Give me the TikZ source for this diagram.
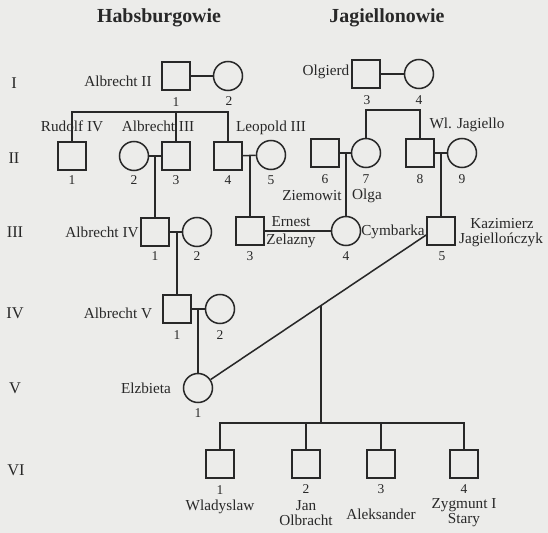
\documentclass[tikz,border=0pt]{standalone}
\usepackage{fontspec}
\setmainfont{Liberation Serif}
\usepackage{xcolor}
\usetikzlibrary{calc}
\definecolor{paper}{RGB}{236,236,234}
\definecolor{ink}{RGB}{40,40,40}
\tikzset{
  male/.style={draw,rectangle,minimum size=0.84cm,inner sep=0pt},
  female/.style={draw,circle,minimum size=0.87cm,inner sep=0pt},
  who/.style={font=\fontsize{13}{14}\selectfont,inner sep=0pt},
  nr/.style={font=\fontsize{11.5}{12}\selectfont,inner sep=0pt},
  gen/.style={font=\fontsize{14}{16}\selectfont,inner sep=0pt},
  house/.style={font=\bfseries\fontsize{17}{19}\selectfont,inner sep=0pt}
}
\begin{document}
\begin{tikzpicture}[x=0.03cm,y=-0.03cm,line width=1.3pt,draw=ink,text=ink]
  \fill[paper] (0,0) rectangle (548,533);
  \useasboundingbox (0,0) rectangle (548,533);
  % houses and generations
  \node[house] (th) at (159,18) {Habsburgowie};
  \node[house] (tj) at (387,18) {Jagiellonowie};
  \node[gen] (g1) at (14,83) {I};
  \node[gen] (g2) at (14,158) {II};
  \node[gen] (g3) at (15,232) {III};
  \node[gen] (g4) at (15,313) {IV};
  \node[gen] (g5) at (15,388) {V};
  \node[gen] (g6) at (16,470) {VI};
  % generation I
  \node[male] (h1) at (176,76) {};
  \node[female] (h2) at (228,76) {};
  \node[male] (j1) at (366,74) {};
  \node[female] (j2) at (419,74) {};
  \node[who] (lh1) at (118,81) {Albrecht II};
  \node[who] (lj1) at (326,72) {Olgierd};
  \node[nr] (nh1) at (176,102) {1};  \node[nr] (nh2) at (229,101) {2};
  \node[nr] (nj1) at (367,100) {3};  \node[nr] (nj2) at (419,100) {4};
  % generation II
  \node[male] (h21) at (72,156) {};
  \node[female] (h22) at (134,156) {};
  \node[male] (h23) at (176,156) {};
  \node[male] (h24) at (228,156) {};
  \node[female] (h25) at (271,155) {};
  \node[male] (j26) at (325,153) {};
  \node[female] (j27) at (366,153) {};
  \node[male] (j28) at (420,153) {};
  \node[female] (j29) at (462,153) {};
  \node[who] (lh21) at (72,126) {Rudolf IV};
  \node[who] (lh23) at (158,126) {Albrecht III};
  \node[who] (lh24) at (271,128) {Leopold III};
  \node[who] (lj28) at (467,125) {Wl. Jagiello};
  \node[who] (lj26) at (312,196) {Ziemowit};
  \node[who] (lj27) at (367,196) {Olga};
  \node[nr] (nh21) at (72,180) {1};   \node[nr] (nh22) at (134,180) {2};
  \node[nr] (nh23) at (176,180) {3};  \node[nr] (nh24) at (228,180) {4};
  \node[nr] (nh25) at (271,180) {5};  \node[nr] (nj26) at (325,179) {6};
  \node[nr] (nj27) at (366,179) {7};  \node[nr] (nj28) at (420,179) {8};
  \node[nr] (nj29) at (462,179) {9};
  % generation III
  \node[male] (h31) at (155,232) {};
  \node[female] (h32) at (197,232) {};
  \node[male] (h33) at (250,231) {};
  \node[female] (h34) at (346,231) {};
  \node[male] (j35) at (441,231) {};
  \node[who] (lh31) at (102,232) {Albrecht IV};
  \node[who] (lh33a) at (291,222) {Ernest};
  \node[who] (lh33b) at (291,241) {Zelazny};
  \node[who] (lh34) at (393,232) {Cymbarka};
  \node[who] (lj35a) at (502,224) {Kazimierz};
  \node[who] (lj35b) at (501,240) {Jagiellończyk};
  \node[nr] (nh31) at (155,256) {1};  \node[nr] (nh32) at (197,256) {2};
  \node[nr] (nh33) at (250,256) {3};  \node[nr] (nh34) at (346,256) {4};
  \node[nr] (nj35) at (442,256) {5};
  % generation IV and V
  \node[male] (h41) at (177,309) {};
  \node[female] (h42) at (220,309) {};
  \node[who] (lh41) at (118,313) {Albrecht V};
  \node[nr] (nh41) at (177,335) {1};  \node[nr] (nh42) at (220,335) {2};
  \node[female] (e1) at (198,388) {};
  \node[who] (le1) at (146,388) {Elzbieta};
  \node[nr] (ne1) at (198,413) {1};
  % generation VI
  \node[male] (k1) at (220,464) {};
  \node[male] (k2) at (306,464) {};
  \node[male] (k3) at (381,464) {};
  \node[male] (k4) at (464,464) {};
  \node[nr] (nk1) at (220,490) {1};  \node[nr] (nk2) at (306,489) {2};
  \node[nr] (nk3) at (381,489) {3};  \node[nr] (nk4) at (464,489) {4};
  \node[who] (lk1) at (220,507) {Wladyslaw};
  \node[who,align=center] (lk2) at (306,513) {Jan\\[-1pt]Olbracht};
  \node[who] (lk3) at (381,514) {Aleksander};
  \node[who,align=center] (lk4) at (464,513) {Zygmunt I\\[-1pt]Stary};
  % marriages and descent
  \coordinate (s1) at (0,112);
  \coordinate (s2) at (0,110);
  \coordinate (s6) at (0,423);
  \draw (h1) -- (h2);
  \draw ($(h1.east)!0.5!(h2.west)$) -- ($(h1.east)!0.5!(h2.west)$ |- s1);
  \draw (h21.north) -- (h21.north |- s1) -- (h24.north |- s1) -- (h24.north);
  \draw (h23.north) -- (h23.north |- s1);
  \draw (j1) -- (j2);
  \draw ($(j1.east)!0.5!(j2.west)$) -- ($(j1.east)!0.5!(j2.west)$ |- s2);
  \draw (j27.north) -- (j27.north |- s2) -- (j28.north |- s2) -- (j28.north);
  \draw (h22) -- (h23);
  \draw (h24) -- (h25);
  \draw (j26) -- (j27);
  \draw (j28) -- (j29);
  \draw (h31.north |- h22) -- (h31.north);
  \draw (h33.north |- h24) -- (h33.north);
  \draw (h34.north |- j26) -- (h34.north);
  \draw (j35.north |- j28) -- (j35.north);
  \draw (h31) -- (h32);
  \draw (h33) -- (h34);
  \draw (h41.north |- h31) -- (h41.north);
  \draw (h41) -- (h42);
  \draw (e1.north |- h41) -- (e1.north);
  \draw (j35.195) -- (e1);
  \coordinate (mk) at ($(j35.195)!0.46!(e1)$);
  \draw (mk) -- (mk |- s6);
  \draw (k1.north) -- (k1.north |- s6) -- (k4.north |- s6) -- (k4.north);
  \draw (k2.north) -- (k2.north |- s6);
  \draw (k3.north) -- (k3.north |- s6);
\end{tikzpicture}
\end{document}
